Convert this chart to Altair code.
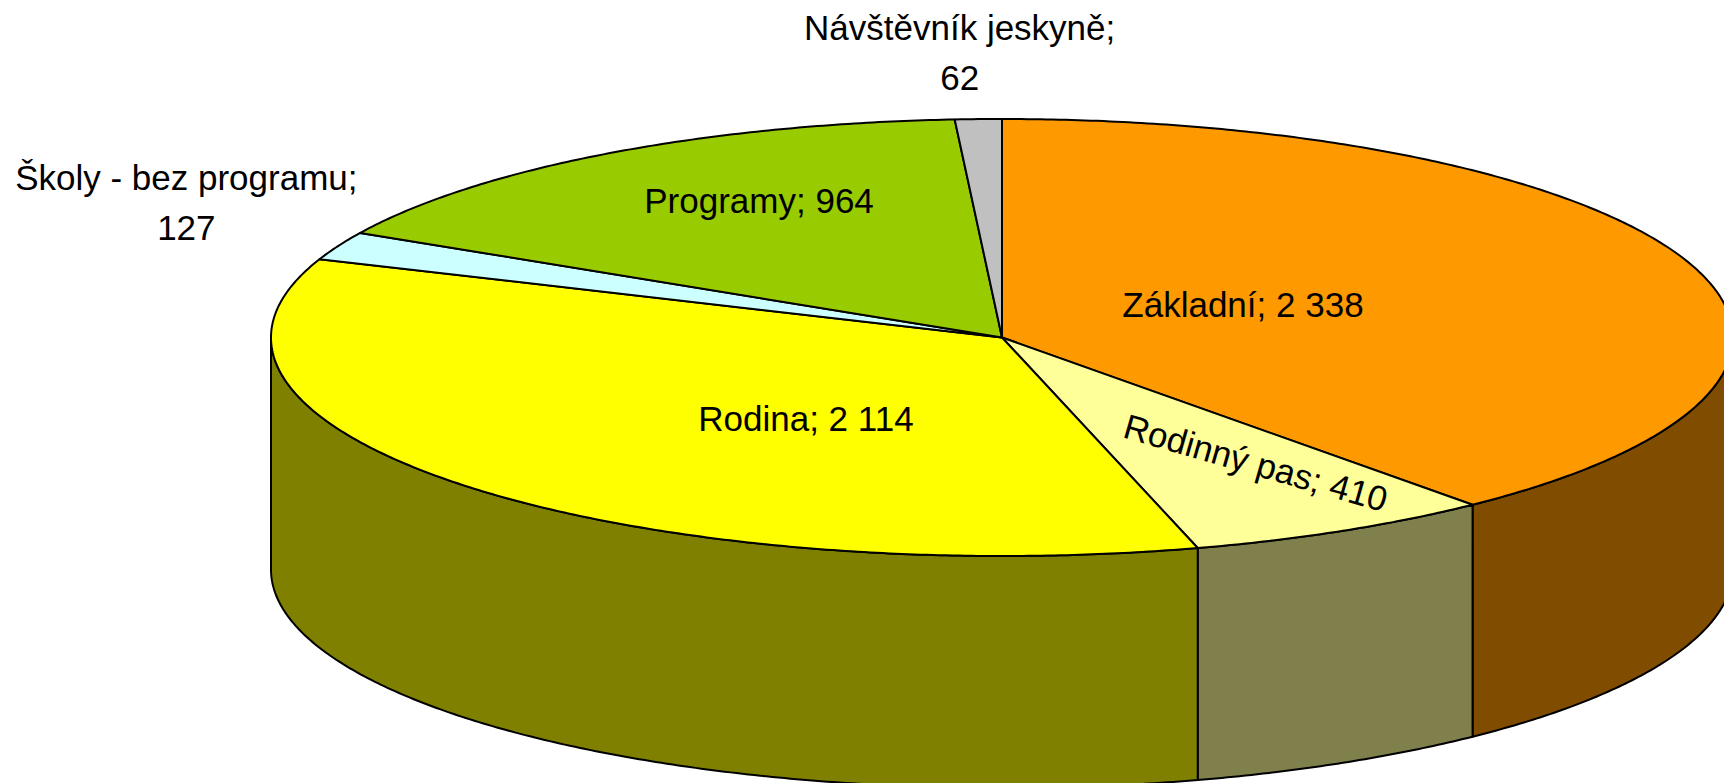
import numpy as np
import pandas as pd
import altair as alt

W, H = 1724, 783

categories = ["Základní", "Rodinný pas", "Rodina", "Školy - bez programu", "Programy", "Návštěvník jeskyně"]
values = [2338, 410, 2114, 127, 964, 62]
value_texts = ["2 338", "410", "2 114", "127", "964", "62"]
top_colors = ["#FF9900", "#FFFF99", "#FFFF00", "#CCFFFF", "#99CC00", "#C0C0C0"]
side_colors = ["#7F4C00", "#80804D", "#808000", "#668080", "#4D6600", "#606060"]
outside = [False, False, False, True, False, True]
# label placement: radial factor of the ellipse, angular shift from the slice middle, text rotation
label_r = [0.359, 0.675, 0.465, 1.272, 0.702, 1.299]
label_dt = [-3.3, -3.1, -12.5, 3.9, 4.3, -0.7]
label_angle = [0, 16, 0, 0, 0, 0]

FONT_SIZE, LINE_H = 35, 50

# 3-D pie geometry (ellipse centre, radii, depth of the side wall)
CX, CY, RX, RY, DEPTH = 1002, 337.5, 731, 218.5, 232


def ex(t, k=1.0):
    return CX + k * RX * np.sin(np.radians(t))


def ey(t, k=1.0, d=0.0):
    return CY - k * RY * np.cos(np.radians(t)) + d


total = float(sum(values))
ends = np.cumsum(values) / total * 360.0
starts = ends - np.array(values) / total * 360.0

top_rows, side_rows, label_rows = [], [], []
for i, (name, a0, a1) in enumerate(zip(categories, starts, ends)):
    ts = np.linspace(a0, a1, int(a1 - a0) * 2 + 3)
    pts = [(CX, CY)] + [(ex(t), ey(t)) for t in ts] + [(CX, CY)]
    for j, (x, y) in enumerate(pts):
        top_rows.append(dict(piece=name, idx=j, x=x, y=y, color=top_colors[i]))
    s0, s1 = max(a0, 90.0), min(a1, 270.0)
    if s1 > s0:
        ts = np.linspace(s0, s1, int(s1 - s0) * 2 + 3)
        pts = [(ex(t), ey(t)) for t in ts] + [(ex(t), ey(t, d=DEPTH)) for t in ts[::-1]]
        pts.append(pts[0])
        for j, (x, y) in enumerate(pts):
            side_rows.append(dict(piece=name, idx=j, x=x, y=y, color=side_colors[i]))
    mid = (a0 + a1) / 2 + label_dt[i]
    sep = ";\n" if outside[i] else "; "
    text = f"{name}{sep}{value_texts[i]}"
    n_lines = text.count("\n") + 1
    label_rows.append(dict(label=text,
                           x=ex(mid, label_r[i]),
                           y=ey(mid, label_r[i]) - (n_lines - 1) * LINE_H / 2,
                           angle=label_angle[i]))

top_df = pd.DataFrame(top_rows)
side_df = pd.DataFrame(side_rows)
label_df = pd.DataFrame(label_rows)

xs = alt.X("x:Q", scale=alt.Scale(domain=[0, W], nice=False, zero=False), axis=None)
ys = alt.Y("y:Q", scale=alt.Scale(domain=[0, H], nice=False, zero=False, reverse=True), axis=None)

sides = alt.Chart(side_df).mark_line(
    filled=True, stroke="black", strokeWidth=2, strokeJoin="round", clip=True
).encode(
    x=xs, y=ys, detail="piece:N", order=alt.Order("idx:Q"),
    fill=alt.Fill("color:N", scale=None),
)

tops = alt.Chart(top_df).mark_line(
    filled=True, stroke="black", strokeWidth=2, strokeJoin="round", clip=True
).encode(
    x=xs, y=ys, detail="piece:N", order=alt.Order("idx:Q"),
    fill=alt.Fill("color:N", scale=None),
)

labels = alt.Chart(label_df).mark_text(
    font="Liberation Sans", fontSize=FONT_SIZE, align="center", baseline="middle",
    lineBreak="\n", lineHeight=LINE_H, color="black"
).encode(
    x=xs, y=ys, text="label:N", angle=alt.Angle("angle:Q", scale=None),
)

chart = alt.layer(sides, tops, labels).properties(
    width=W, height=H, padding=0, autosize="none", background="white"
).configure_view(strokeWidth=0)

chart.save("out.html", embed_options={"renderer": "svg", "actions": False})
